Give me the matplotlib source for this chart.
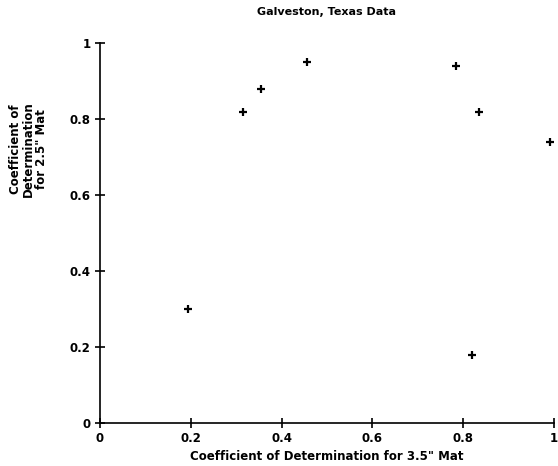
import matplotlib
matplotlib.use("Agg")
import matplotlib.pyplot as plt
from matplotlib.ticker import FormatStrFormatter

# values
r2_35 = [0.193, 0.315, 0.355, 0.456, 0.783, 0.834, 0.820, 0.992]
r2_25 = [0.300, 0.819, 0.879, 0.949, 0.938, 0.818, 0.179, 0.739]
ticks = [0, 0.2, 0.4, 0.6, 0.8, 1]

fig = plt.figure(figsize=(5.58, 4.66), dpi=100)
ax = fig.add_axes([0.179, 0.092, 0.814, 0.816])

ax.plot(r2_35, r2_25, '+', color='black', markersize=5.5, markeredgewidth=1.6)

ax.set_xlim(0, 1)
ax.set_ylim(0, 1)
ax.set_xticks(ticks)
ax.set_yticks(ticks)
ax.xaxis.set_major_formatter(FormatStrFormatter('%g'))
ax.yaxis.set_major_formatter(FormatStrFormatter('%g'))
ax.tick_params(direction='inout', length=7, width=1.2, labelsize=8.5, pad=3)
for lab in ax.get_xticklabels() + ax.get_yticklabels():
    lab.set_fontweight('bold')

ax.spines['top'].set_visible(False)
ax.spines['right'].set_visible(False)
ax.spines['left'].set_linewidth(1.2)
ax.spines['bottom'].set_linewidth(1.2)

ax.set_title('Galveston, Texas Data', fontsize=8, fontweight='bold', pad=20)
ax.set_xlabel('Coefficient of Determination for 3.5" Mat', fontsize=8.5,
              fontweight='bold')
ax.xaxis.set_label_coords(0.5, -0.07)
ax.set_ylabel('Coefficient of\nDetermination\nfor 2.5" Mat', fontsize=8.5,
              fontweight='bold', linespacing=1.0)
ax.yaxis.set_label_coords(-0.115, 0.72)

fig.savefig('out.png', dpi=100)
